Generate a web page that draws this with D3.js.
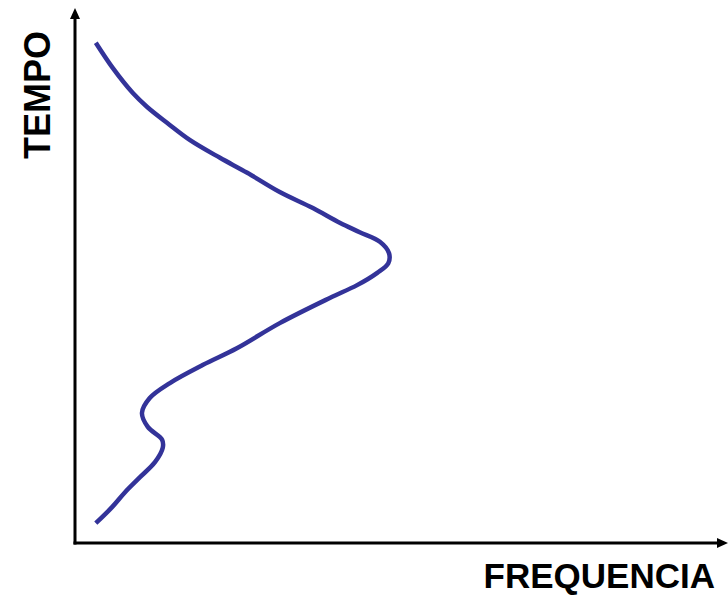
<!DOCTYPE html>
<html>
<head>
<meta charset="utf-8">
<script src="https://cdn.jsdelivr.net/npm/d3@7"></script>
<style>
html,body{margin:0;padding:0;background:#fff;}
svg{display:block;}
</style>
</head>
<body>
<svg id="chart" width="728" height="595"></svg>
<script>
// Frequency (x) and time (y) values along the curve, arbitrary units 0..100
const frequency = [3.2,5.8,8.9,11.1,14.2,17.7,22.3,26.5,31.5,36.6,40.8,43.8,46.9,48.3,48.2,46.5,43.4,39.2,31.5,24.9,19.7,14.6,11.5,10.3,11.2,13.4,13.5,12.3,10.0,7.7,5.7,3.2];
const tempo     = [93.5,88.8,84.1,81.5,78.5,75.3,72.0,69.2,65.6,62.6,59.8,58.1,56.3,54.2,52.3,50.5,48.2,45.8,41.1,36.4,33.3,29.9,27.1,24.3,21.7,19.3,17.8,15.1,12.3,9.5,6.7,3.7];
const xLabel = "FREQUENCIA";
const yLabel = "TEMPO";

const svg = d3.select("#chart");
const x = d3.scaleLinear().domain([0,100]).range([75,725]);
const y = d3.scaleLinear().domain([0,100]).range([543,8]);

const axisColor = "#000";
// y axis line
svg.append("line")
  .attr("x1", x(0)).attr("x2", x(0))
  .attr("y1", y(0) + 1.5).attr("y2", y(100) + 8)
  .attr("stroke", axisColor).attr("stroke-width", 3);
// x axis line
svg.append("line")
  .attr("x1", x(0) - 1.5).attr("x2", x(100) - 4)
  .attr("y1", y(0)).attr("y2", y(0))
  .attr("stroke", axisColor).attr("stroke-width", 3);
// arrow heads
svg.append("path")
  .attr("d", `M${x(0)},${y(100)} L${x(0)-5},${y(100)+11} L${x(0)+5},${y(100)+11} Z`)
  .attr("fill", axisColor);
svg.append("path")
  .attr("d", `M${x(100)+3},${y(0)} L${x(100)-8},${y(0)-5} L${x(100)-8},${y(0)+5} Z`)
  .attr("fill", axisColor);

// curve
const pts = frequency.map((f,i)=>[f, tempo[i]]);
const line = d3.line().x(d=>x(d[0])).y(d=>y(d[1])).curve(d3.curveCatmullRom.alpha(0.5));
svg.append("path")
  .datum(pts)
  .attr("d", line)
  .attr("fill", "none")
  .attr("stroke", "#333399")
  .attr("stroke-width", 4.5)
  .attr("stroke-linecap", "butt")
  .attr("stroke-linejoin", "round");

// labels
svg.append("text")
  .attr("x", 715).attr("y", 588)
  .attr("text-anchor", "end")
  .attr("font-family", "Liberation Sans, Arial, sans-serif")
  .attr("font-weight", "bold")
  .attr("font-size", 35)
  .attr("fill", "#000")
  .text(xLabel);
svg.append("text")
  .attr("transform", "translate(50,95) rotate(-90)")
  .attr("text-anchor", "middle")
  .attr("font-family", "Liberation Sans, Arial, sans-serif")
  .attr("font-weight", "bold")
  .attr("font-size", 36)
  .attr("fill", "#000")
  .text(yLabel);
</script>
</body>
</html>
